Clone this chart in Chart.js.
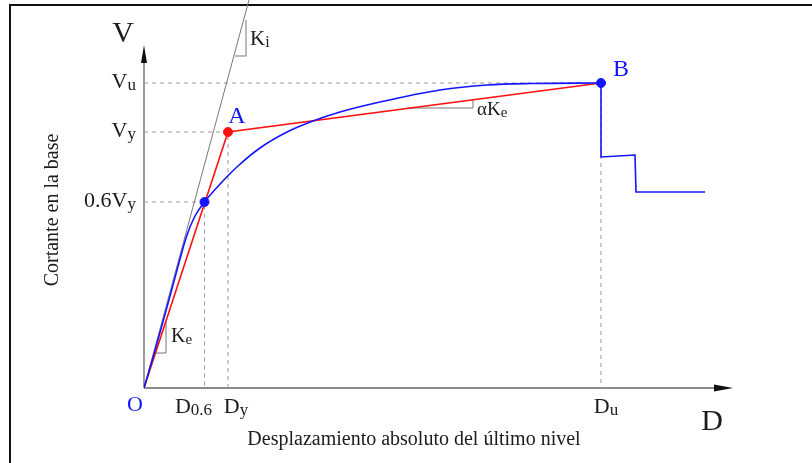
<!DOCTYPE html>
<html>
<head>
<meta charset="utf-8">
<script src="https://cdn.jsdelivr.net/npm/chart.js@4.4.0/dist/chart.umd.min.js"></script>
<style>
  html, body { margin: 0; padding: 0; background: #fff; }
  #wrap { width: 812px; height: 463px; }
</style>
</head>
<body>
<div id="wrap"><canvas id="c" width="812" height="463"></canvas></div>
<script>
// key values of the schematic (displacement D, base shear V)
const D06 = 6.05, Dy = 8.4, Du = 45.7;
const V06 = 18.6, Vy = 25.6, Vu = 30.5;
const xMax = 58.9, yMax = 34.3;

// capacity curve (blue)
const curveX = [0, 1.0, 2.0, 2.9, 3.6, 4.3, 5.1, 6.05, 7.8, 9.4, 11.6, 14.3, 16.9, 19.6, 23.6, 29.6, 34.3, 38.6, 45.7];
const curveY = [0, 3.4, 7.0, 10.3, 12.9, 15.3, 17.2, 18.6, 20.6, 22.2, 24.0, 25.6, 26.7, 27.6, 28.6, 29.8, 30.3, 30.45, 30.5];
// post-peak drop (blue)
const dropX = [45.7, 45.7, 49.1, 49.2, 56.1];
const dropY = [30.5, 23.1, 23.3, 19.6, 19.6];
// bilinear idealisation (red)
const bilinX = [0, Dy, Du];
const bilinY = [0, Vy, Vu];
// initial stiffness line Ki (gray)
const kiX = [0, 10.5];
const kiY = [0, 38.8];
// slope triangles
const triKiX = [9.1, 10.2, 10.2], triKiY = [33.2, 33.2, 36.8];
const triKeX = [1.15, 2.2, 2.2], triKeY = [3.5, 3.5, 6.6];
const triAKX = [26.3, 32.9, 32.9], triAKY = [28.0, 28.0, 28.8];

// tick labels
const yTickValues = [Vu, Vy, V06];
const yTickMain = ['V', 'V', '0.6V'];
const yTickSub = ['u', 'y', 'y'];
const xTickValues = [D06, Dy, Du];
const xTickMain = ['D', 'D', 'D'];
const xTickSub = ['0.6', 'y', 'u'];
const xTickShift = [-11, 8, 5];

const SERIF = '"Liberation Serif", "DejaVu Serif", serif';
const BLUE = '#1414ff';
const RED = '#ff1010';
const INK = '#1c1c1c';

const pts = (xs, ys) => xs.map((x, i) => ({ x: x, y: ys[i] }));

function subText(ctx, x, y, main, sub, size, subSize, align, color) {
    ctx.font = `${size}px ${SERIF}`;
    const w1 = ctx.measureText(main).width;
    ctx.font = `${subSize}px ${SERIF}`;
    const w2 = sub ? ctx.measureText(sub).width : 0;
    let x0 = x;
    if (align === 'right') x0 = x - w1 - w2;
    else if (align === 'center') x0 = x - (w1 + w2) / 2;
    ctx.fillStyle = color;
    ctx.textAlign = 'left';
    ctx.textBaseline = 'alphabetic';
    ctx.font = `${size}px ${SERIF}`;
    ctx.fillText(main, x0, y);
    if (sub) {
        ctx.font = `${subSize}px ${SERIF}`;
        ctx.fillText(sub, x0 + w1, y + 2);
    }
}

const decor = {
    id: 'decor',
    beforeDatasetsDraw(chart) {
        const { ctx, chartArea: a } = chart;
        ctx.save();
        // frame (top and left edges)
        ctx.strokeStyle = '#111';
        ctx.lineWidth = 2;
        ctx.beginPath();
        ctx.moveTo(812, 5); ctx.lineTo(10, 5); ctx.lineTo(10, 463);
        ctx.stroke();
        // axes
        ctx.strokeStyle = '#666';
        ctx.lineWidth = 1.3;
        ctx.beginPath();
        ctx.moveTo(a.left, a.bottom); ctx.lineTo(a.left, a.top + 10);
        ctx.moveTo(a.left, a.bottom); ctx.lineTo(a.right - 10, a.bottom);
        ctx.stroke();
        ctx.fillStyle = '#111';
        ctx.beginPath();
        ctx.moveTo(a.left, a.top); ctx.lineTo(a.left - 3, a.top + 18); ctx.lineTo(a.left + 3, a.top + 18);
        ctx.closePath(); ctx.fill();
        ctx.beginPath();
        ctx.moveTo(a.right, a.bottom); ctx.lineTo(a.right - 19, a.bottom - 3.5); ctx.lineTo(a.right - 19, a.bottom + 3.5);
        ctx.closePath(); ctx.fill();
        ctx.restore();
    },
    afterDraw(chart) {
        const { ctx, chartArea: a, scales: { x, y } } = chart;
        ctx.save();
        // y tick labels
        yTickValues.forEach((v, i) => {
            subText(ctx, a.left - 8, y.getPixelForValue(v) + 5, yTickMain[i], yTickSub[i], 22, 17, 'right', INK);
        });
        // x tick labels
        xTickValues.forEach((v, i) => {
            subText(ctx, x.getPixelForValue(v) + xTickShift[i], a.bottom + 25, xTickMain[i], xTickSub[i], 22, 17, 'center', INK);
        });
        // axis symbols
        subText(ctx, 123, 42, 'V', '', 30, 16, 'center', INK);
        subText(ctx, 712, 430, 'D', '', 30, 16, 'center', INK);
        subText(ctx, a.left - 9, a.bottom + 23, 'O', '', 22, 16, 'center', BLUE);
        // points names
        subText(ctx, x.getPixelForValue(Dy) + 9, y.getPixelForValue(Vy) - 9, 'A', '', 24, 16, 'center', BLUE);
        subText(ctx, x.getPixelForValue(Du) + 20, y.getPixelForValue(Vu) - 7, 'B', '', 24, 16, 'center', BLUE);
        // stiffness labels
        subText(ctx, x.getPixelForValue(triKiX[2]) + 4, 45, 'K', 'i', 21, 16, 'left', INK);
        subText(ctx, x.getPixelForValue(triKeX[2]) + 5, y.getPixelForValue(triKeY[0]) - 11, 'K', 'e', 20, 15, 'left', INK);
        subText(ctx, x.getPixelForValue(triAKX[2]) + 4, y.getPixelForValue(triAKY[0]) + 7, '\u03b1K', 'e', 19, 15, 'left', INK);
        // axis titles
        ctx.fillStyle = INK;
        ctx.font = `20px ${SERIF}`;
        ctx.textAlign = 'center';
        ctx.textBaseline = 'middle';
        ctx.fillText('Desplazamiento absoluto del último nivel', 414, 440);
        ctx.translate(53, 210);
        ctx.rotate(-Math.PI / 2);
        ctx.fillText('Cortante en la base', 0, 0);
        ctx.restore();
    }
};

const dashed = { borderColor: '#9a9a9a', borderWidth: 1, borderDash: [4, 4], pointRadius: 0, tension: 0, order: 10 };
const thinGray = { borderColor: '#777', borderWidth: 1, pointRadius: 0, tension: 0, order: 9, clip: false };

new Chart(document.getElementById('c'), {
    type: 'line',
    data: {
        datasets: [
            Object.assign({ data: pts([0, Du], [Vu, Vu]) }, dashed),
            Object.assign({ data: pts([0, Dy, Dy], [Vy, Vy, 0]) }, dashed),
            Object.assign({ data: pts([0, D06, D06], [V06, V06, 0]) }, dashed),
            Object.assign({ data: pts([Du, Du], [Vu, 0]) }, dashed),
            Object.assign({ data: pts(kiX, kiY) }, thinGray),
            Object.assign({ data: pts(triKiX, triKiY) }, thinGray),
            Object.assign({ data: pts(triKeX, triKeY) }, thinGray),
            Object.assign({ data: pts(triAKX, triAKY) }, thinGray),
            { data: pts(bilinX, bilinY), borderColor: RED, borderWidth: 1.6, pointRadius: 0, tension: 0, order: 3 },
            { data: pts(curveX, curveY), borderColor: BLUE, borderWidth: 1.6, pointRadius: 0, cubicInterpolationMode: 'monotone', order: 2 },
            { data: pts(dropX, dropY), borderColor: BLUE, borderWidth: 1.6, pointRadius: 0, tension: 0, order: 2 },
            { data: pts([Dy], [Vy]), showLine: false, pointRadius: 4.5, pointBackgroundColor: RED, pointBorderColor: RED, order: 1 },
            { data: pts([D06, Du], [V06, Vu]), showLine: false, pointRadius: 4.5, pointBackgroundColor: BLUE, pointBorderColor: BLUE, order: 1 }
        ]
    },
    options: {
        responsive: false,
        animation: false,
        events: [],
        layout: { padding: { left: 144, right: 79, top: 45, bottom: 75 } },
        scales: {
            x: { type: 'linear', min: 0, max: xMax, display: false },
            y: { type: 'linear', min: 0, max: yMax, display: false }
        },
        plugins: { legend: { display: false }, tooltip: { enabled: false } }
    },
    plugins: [decor]
});
</script>
</body>
</html>
